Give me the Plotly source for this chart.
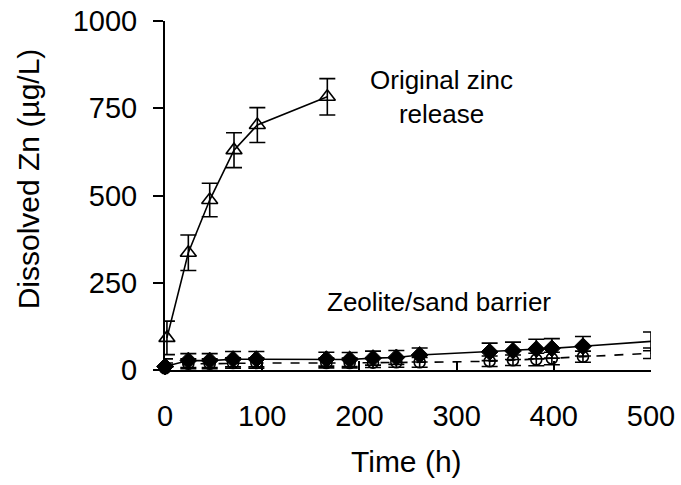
import plotly.graph_objects as go

# Original zinc release (open triangles)
t_orig = [2, 24, 46, 71, 95, 167]
zn_orig = [92, 336, 487, 630, 702, 783]
err_orig = [48, 51, 48, 50, 50, 52]

# Zeolite/sand barrier (filled diamonds, solid line)
t_bar = [0, 24, 46, 70, 94, 166, 190, 214, 238, 262, 334, 358, 382, 398, 430, 500]
zn_dia = [10, 27, 27, 31, 31, 31, 30, 34, 36, 43, 52, 55, 60, 62, 68, 82]
err_dia = [22, 20, 20, 22, 22, 20, 20, 20, 20, 20, 25, 25, 28, 28, 28, 27]

# Zeolite/sand barrier (open circles, dashed line)
zn_cir = [5, 18, 18, 20, 20, 20, 20, 21, 22, 22, 25, 28, 30, 33, 38, 48]
err_cir = [15, 14, 14, 15, 15, 14, 14, 14, 14, 14, 15, 15, 18, 18, 16, 15]

x_ticks = [0, 100, 200, 300, 400, 500]
y_ticks = [0, 250, 500, 750, 1000]

FONT = "Liberation Sans, Arial, sans-serif"

fig = go.Figure()

eb = dict(type="data", visible=True, color="black", thickness=1.6, width=8)

# last point at 500 h shows only its error bar in the original
cir_sizes = [11] * (len(t_bar) - 1) + [0]
fig.add_trace(go.Scatter(
    x=t_bar, y=zn_cir, mode="lines+markers",
    line=dict(color="black", width=1.6, dash="dash"),
    marker=dict(symbol="circle-open", size=cir_sizes, color="black", opacity=1,
                line=dict(width=1.6)),
    error_y=dict(array=err_cir, **eb), cliponaxis=False, showlegend=False))

dia_sizes = [13] * (len(t_bar) - 1) + [0]
fig.add_trace(go.Scatter(
    x=t_bar, y=zn_dia, mode="lines+markers",
    line=dict(color="black", width=1.6),
    marker=dict(symbol="diamond", size=dia_sizes, color="#000000", opacity=1,
                line=dict(color="#000000", width=1)),
    error_y=dict(array=err_dia, **eb), cliponaxis=False, showlegend=False))

fig.add_trace(go.Scatter(
    x=t_orig, y=zn_orig, mode="lines+markers",
    line=dict(color="black", width=1.6),
    marker=dict(symbol="triangle-up-open", size=14, color="black", opacity=1,
                line=dict(width=1.6)),
    error_y=dict(array=err_orig, **eb), cliponaxis=False, showlegend=False))

ann_font = dict(family=FONT, size=26, color="black")
fig.add_annotation(x=284.5, y=782, text="Original zinc<br>release", showarrow=False,
                   font=ann_font, align="center", xanchor="center", yanchor="middle")
fig.add_annotation(x=282, y=195, text="Zeolite/sand barrier", showarrow=False,
                   font=ann_font, align="center", xanchor="center", yanchor="middle")

title_font = dict(family=FONT, size=30, color="black")
fig.add_annotation(xref="paper", yref="paper", x=0.497, y=-0.261, text="Time (h)",
                   showarrow=False, font=title_font, xanchor="center", yanchor="middle")
fig.add_annotation(xref="paper", yref="paper", x=-0.282, y=0.549,
                   text="Dissolved Zn (µg/L)", textangle=-90,
                   showarrow=False, font=title_font, xanchor="center", yanchor="middle")

fig.update_layout(
    width=681, height=485,
    margin=dict(l=165, r=30, t=21, b=115, autoexpand=False),
    paper_bgcolor="white", plot_bgcolor="white",
    font=dict(family=FONT, size=29, color="black"),
    xaxis=dict(range=[0, 500], tickvals=x_ticks, ticks="inside", ticklen=9,
               tickwidth=2, tickcolor="black", showline=True, linecolor="black",
               linewidth=2, showgrid=False, zeroline=False, automargin=False,
               ticklabelstandoff=19, ticklabeloverflow="allow", tickfont=dict(size=29)),
    yaxis=dict(range=[0, 1000.2], tickvals=y_ticks, ticks="outside", ticklen=10,
               tickwidth=2, tickcolor="black", showline=True, linecolor="black",
               linewidth=2, showgrid=False, zeroline=False, automargin=False,
               ticklabelstandoff=10, ticklabeloverflow="allow", tickfont=dict(size=29)),
)

fig.write_html("out.html", config={"displayModeBar": False},
               post_script="document.body.style.margin='0';document.body.style.overflow='hidden';")
